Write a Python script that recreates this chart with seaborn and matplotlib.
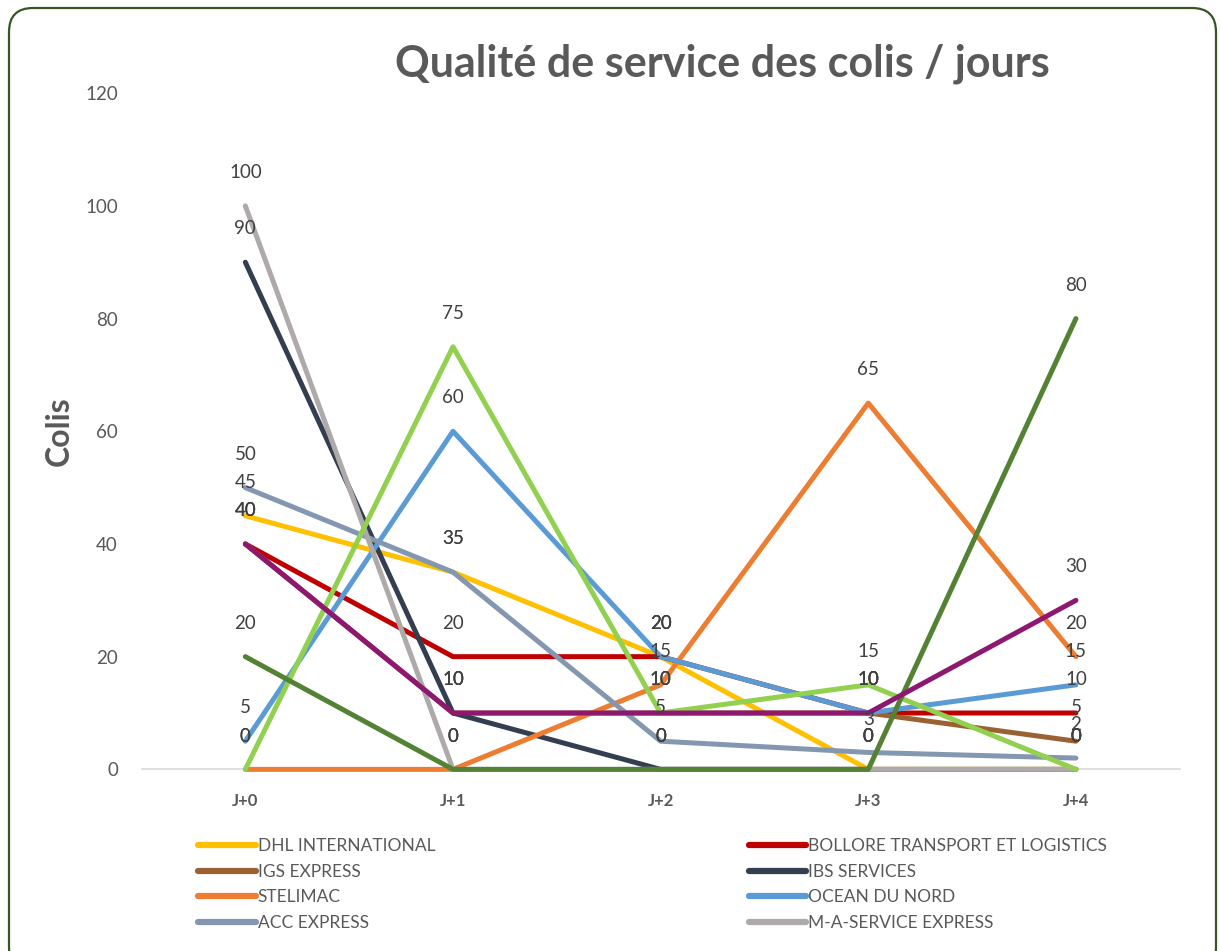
import matplotlib
matplotlib.use('Agg')
import matplotlib.pyplot as plt
from matplotlib.lines import Line2D
from matplotlib.patches import FancyBboxPatch
import seaborn as sns
import pandas as pd

# data
days = ['J+0', 'J+1', 'J+2', 'J+3', 'J+4']
dhl = [45, 35, 20, 0, 0]
bollore = [40, 20, 20, 10, 10]
igs = [40, 10, 10, 10, 5]
ibs = [90, 10, 0, 0, 0]
stelimac = [0, 0, 15, 65, 20]
ocean = [5, 60, 20, 10, 15]
acc = [50, 35, 5, 3, 2]
maservice = [100, 0, 0, 0, 0]
# three more series are drawn but cut off the legend
serie9 = [0, 75, 10, 15, 0]
serie10 = [20, 0, 0, 0, 80]
serie11 = [40, 10, 10, 10, 30]

names = ['DHL INTERNATIONAL', 'BOLLORE TRANSPORT ET LOGISTICS', 'IGS EXPRESS',
         'IBS SERVICES', 'STELIMAC', 'OCEAN DU NORD', 'ACC EXPRESS',
         'M-A-SERVICE EXPRESS', 'SERIE 9', 'SERIE 10', 'SERIE 11']
values = [dhl, bollore, igs, ibs, stelimac, ocean, acc, maservice,
          serie9, serie10, serie11]
colors = ['#FFC000', '#C00000', '#9A6232', '#333F50', '#ED7D31', '#5B9BD5',
          '#8497B0', '#AEAAAA', '#92D050', '#548235', '#8E1870']
palette = dict(zip(names, colors))

rows = []
for name, vals in zip(names, values):
    for d, v in zip(days, vals):
        rows.append({'Jour': d, 'Colis': v, 'Transporteur': name})
df = pd.DataFrame(rows)

sns.set_style('white')
plt.rcParams['font.family'] = ['Lato', 'DejaVu Sans']
grey = '#595959'

fig = plt.figure(figsize=(12.2, 9.51), dpi=100)
ax = fig.add_axes([0.116, 0.191, 0.851, 0.711])

sns.lineplot(data=df, x='Jour', y='Colis', hue='Transporteur',
             hue_order=names, palette=palette, linewidth=3.6,
             sort=False, legend=False, ax=ax)
for line in ax.get_lines():
    line.set_clip_on(False)

# data labels above each point
for name, vals in zip(names, values):
    for i, v in enumerate(vals):
        ax.annotate(str(v), (i, v), xytext=(0, 24), textcoords='offset points',
                    ha='center', va='center', fontsize=13.5, color='#404040')

ax.set_xlim(-0.5, 4.5)
ax.set_ylim(0, 120)
ax.set_yticks(range(0, 121, 20))
ax.tick_params(axis='y', labelsize=13.5, colors=grey, length=0, pad=17)
ax.tick_params(axis='x', labelsize=12, colors=grey, length=0, pad=17)
for lab in ax.get_xticklabels():
    lab.set_fontweight('bold')
for s in ['top', 'right', 'left']:
    ax.spines[s].set_visible(False)
ax.spines['bottom'].set_color('#D9D9D9')
ax.spines['bottom'].set_linewidth(1.2)
ax.spines['bottom'].set_zorder(0)
ax.set_xlabel('')
ax.set_ylabel('Colis', fontsize=23, fontweight='bold', color=grey, labelpad=8)

fig.text(0.592, 0.933, 'Qualité de service des colis / jours', ha='center',
         va='center', fontsize=31, fontweight='bold', color=grey)

# legend only shows the first eight series, two columns
def handles(idx):
    return [Line2D([0], [0], color=colors[i], lw=4.5, solid_capstyle='round')
            for i in idx]

left_idx = [0, 2, 4, 6]
right_idx = [1, 3, 5, 7]
for idx, x in [(left_idx, 0.157), (right_idx, 0.608)]:
    fig.legend(handles(idx), [names[i] for i in idx], loc='upper left',
               bbox_to_anchor=(x, 0.126), frameon=False, fontsize=12.5,
               labelcolor=grey, handlelength=3.3, handletextpad=0.1,
               labelspacing=0.55, borderaxespad=0)

border = FancyBboxPatch((9, -20), 1207, 963,
                        boxstyle='round,pad=0,rounding_size=24',
                        transform=None, facecolor='none',
                        edgecolor='#375623', linewidth=1.6)
fig.add_artist(border)

fig.savefig('out.png', dpi=100)
